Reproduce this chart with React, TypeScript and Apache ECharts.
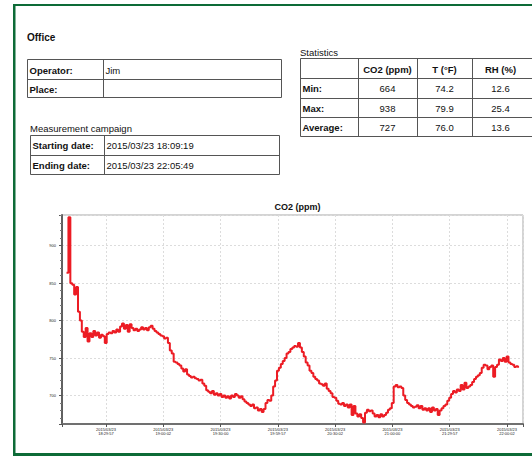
import React, { useEffect, useRef } from "react";
import * as echarts from "echarts";

// CO2 readings (ppm), one per sample between start and end of campaign
const co2 = [
  864, 938, 850, 848, 835, 845, 812, 800, 785, 778,
  790, 772, 783, 778, 786, 780, 784, 777, 781, 779,
  770, 782, 784, 783, 786, 784, 788, 785, 792, 796,
  789, 794, 785, 795, 790, 787, 789, 786, 788, 791,
  788, 790, 787, 791, 793, 789, 786, 784, 782, 780,
  779, 776, 777, 770, 760, 756, 745, 744, 742, 740,
  736, 732, 735, 728, 726, 724, 725, 723, 722, 720,
  721, 716, 713, 707, 705, 703, 706, 701, 703, 700,
  702, 698, 700, 697, 699, 696, 700, 698, 702, 700,
  697, 699, 695, 692, 690, 688, 686, 688, 683, 684,
  680, 682, 678, 682, 690, 694, 693, 700, 712, 720,
  733, 737, 742, 746, 750, 756, 758, 762, 764, 766,
  765, 770, 764, 758, 752, 744, 740, 733, 730, 725,
  722, 720, 716, 715, 713, 716, 709, 706, 703, 698,
  697, 693, 689, 688, 690, 686, 688, 684, 688, 674,
  686, 676, 672, 675, 670, 664, 677, 681, 679, 680,
  676, 672, 674, 671, 675, 672, 674, 677, 681, 683,
  690, 712, 714, 711, 712, 710, 700, 694, 690, 688,
  686, 684, 685, 687, 683, 686, 681, 683, 680, 683,
  678, 684, 680, 682, 674, 680, 683, 686, 688, 693,
  697, 702, 706, 704, 708, 706, 714, 708, 717, 710,
  712, 714, 718, 722, 725, 727, 730, 737, 741, 740,
  735, 738, 740, 725, 738, 741, 748, 746, 750, 745,
  752, 744, 742, 741, 738, 739, 737,
];

const startTime = "18:09:19";
const endTime = "22:05:49";
const xTickLabels = [
  "2015/03/23\n18:29:57",
  "2015/03/23\n19:00:02",
  "2015/03/23\n19:30:00",
  "2015/03/23\n19:59:57",
  "2015/03/23\n20:30:02",
  "2015/03/23\n21:00:00",
  "2015/03/23\n21:29:57",
  "2015/03/23\n22:00:02",
];

const infoRows = [
  ["Operator:", "Jim"],
  ["Place:", ""],
];
const campaignRows = [
  ["Starting date:", "2015/03/23 " + startTime],
  ["Ending date:", "2015/03/23 " + endTime],
];
const statHeaders = ["", "CO2 (ppm)", "T (°F)", "RH (%)"];
const statRowLabels = ["Min:", "Max:", "Average:"];
const statCO2 = ["664", "938", "727"];
const statT = ["74.2", "79.9", "76.0"];
const statRH = ["12.6", "25.4", "13.6"];

const FONT = "Liberation Sans";

function toMin(hms: string) {
  const [h, m, s] = hms.split(":").map(Number);
  return (h - 18) * 60 + m + s / 60;
}

type Cell = { text: string; bold?: boolean; align?: "left" | "center" };

function table(x0: number, y0: number, colW: number[], rowH: number[], cells: Cell[][]) {
  const els: any[] = [];
  const W = colW.reduce((a, b) => a + b, 0);
  const H = rowH.reduce((a, b) => a + b, 0);
  const stroke = "#555";
  els.push({
    type: "rect",
    shape: { x: x0 + 0.5, y: y0 + 0.5, width: W, height: H },
    style: { fill: "none", stroke, lineWidth: 1 },
  });
  let yy = y0;
  for (let r = 0; r < rowH.length - 1; r++) {
    yy += rowH[r];
    els.push({
      type: "line",
      shape: { x1: x0, y1: Math.round(yy) + 0.5, x2: x0 + W, y2: Math.round(yy) + 0.5 },
      style: { stroke, lineWidth: 1 },
    });
  }
  let xx = x0;
  for (let c = 0; c < colW.length - 1; c++) {
    xx += colW[c];
    els.push({
      type: "line",
      shape: { x1: Math.round(xx) + 0.5, y1: y0, x2: Math.round(xx) + 0.5, y2: y0 + H },
      style: { stroke, lineWidth: 1 },
    });
  }
  let ry = y0;
  for (let r = 0; r < rowH.length; r++) {
    let cx = x0;
    for (let c = 0; c < colW.length; c++) {
      const cell = cells[r][c];
      if (cell && cell.text) {
        const align = cell.align || "left";
        const w = c === colW.length - 1 && align === "center" ? 57 : colW[c];
        els.push({
          type: "text",
          x: align === "center" ? cx + w / 2 : cx + 2.5,
          y: ry + rowH[r] / 2 + 1,
          style: {
            text: cell.text,
            fontSize: 9.5,
            fontWeight: cell.bold ? "bold" : "normal",
            fontFamily: FONT,
            fill: "#111",
            align,
            textAlign: align,
            verticalAlign: "middle",
            textVerticalAlign: "middle",
          },
        });
      }
      cx += colW[c];
    }
    ry += rowH[r];
  }
  return els;
}

function label(text: string, x: number, y: number, size: number, bold: boolean) {
  return {
    type: "text",
    x,
    y,
    style: {
      text,
      fontSize: size,
      fontWeight: bold ? "bold" : "normal",
      fontFamily: FONT,
      fill: "#111",
      align: "left",
      textAlign: "left",
      verticalAlign: "middle",
      textVerticalAlign: "middle",
    },
  };
}

export default function App() {
  const ref = useRef<HTMLDivElement>(null);
  useEffect(() => {
    if (!ref.current) return;
    const chart = echarts.init(ref.current, undefined, { renderer: "svg" });
    const t0 = toMin(startTime);
    const t1 = toMin(endTime);
    const n = co2.length;
    const data = co2.map((v, i) => [t0 + (i * (t1 - t0)) / (n - 1), v]);

    const green = "#0d6b37";
    const graphics: any[] = [
      { type: "rect", shape: { x: 13, y: 4, width: 2.5, height: 452 }, style: { fill: green } },
      { type: "rect", shape: { x: 13, y: 4, width: 519, height: 2 }, style: { fill: green } },
      { type: "rect", shape: { x: 13, y: 453, width: 519, height: 3 }, style: { fill: green } },
      label("Office", 27, 37, 10, true),
      label("Measurement campaign", 30, 128, 9.5, false),
      label("Statistics", 300, 52, 9.5, false),
      ...table(
        27,
        59,
        [76, 178],
        [20, 18],
        infoRows.map((r) => [{ text: r[0], bold: true }, { text: r[1] }])
      ),
      ...table(
        30,
        135,
        [74, 175],
        [19.5, 19.5],
        campaignRows.map((r) => [{ text: r[0], bold: true }, { text: r[1] }])
      ),
      ...table(300, 58, [58, 59, 55, 70], [20, 19.5, 19, 19.5], [
        statHeaders.map((h) => ({ text: h, bold: true, align: "center" as const })),
        ...statRowLabels.map((l, i) => [
          { text: l, bold: true },
          { text: statCO2[i], align: "center" as const },
          { text: statT[i], align: "center" as const },
          { text: statRH[i], align: "center" as const },
        ]),
      ]),
    ];

    chart.setOption({
      animation: false,
      backgroundColor: "#fff",
      textStyle: { fontFamily: FONT },
      title: {
        text: "CO2 (ppm)",
        left: 292.5,
        top: 197,
        textAlign: "center",
        textStyle: { fontSize: 9, fontWeight: "bold", color: "#111", fontFamily: FONT },
      },
      grid: {
        left: 62,
        top: 215,
        right: 9,
        bottom: 32,
        show: true,
        borderColor: "#a8a8a8",
        borderWidth: 1,
      },
      xAxis: {
        type: "value",
        min: 6.95,
        max: 248.4,
        splitNumber: 8,
        axisLine: { show: true, lineStyle: { color: "#707070", width: 2 } },
        axisTick: { show: true, length: 3, lineStyle: { color: "#555" } },
        splitLine: { show: true, lineStyle: { color: "#dcdcdc", type: [2, 2], width: 1 } },
        axisLabel: {
          fontSize: 4,
          lineHeight: 4.5,
          color: "#222",
          margin: 3,
          formatter: (v: number) => {
            const k = Math.round(v / 30);
            if (Math.abs(v - k * 30) < 0.01 && k >= 1 && k <= xTickLabels.length) return xTickLabels[k - 1];
            return "";
          },
        },
      },
      yAxis: {
        type: "value",
        min: 662,
        max: 941,
        axisLine: { show: true, lineStyle: { color: "#606060", width: 2 } },
        axisTick: { show: true, length: 3, lineStyle: { color: "#555" } },
        minorTick: { show: true, splitNumber: 5, length: 2, lineStyle: { color: "#777" } },
        splitLine: { show: true, lineStyle: { color: "#dcdcdc", type: [2, 2], width: 1 } },
        axisLabel: {
          fontSize: 4,
          color: "#222",
          margin: 6,
          formatter: (v: number) => (Math.abs(v % 50) < 0.01 ? String(v) : ""),
        },
      },
      series: [
        {
          type: "line",
          data,
          step: "end",
          showSymbol: false,
          lineStyle: { color: "#ec1c24", width: 2 },
        },
      ],
      graphic: { elements: graphics },
    });
    return () => chart.dispose();
  }, []);
  return (
    <div
      ref={ref}
      style={{ position: "absolute", left: 0, top: 0, width: 532, height: 456 }}
    />
  );
}
